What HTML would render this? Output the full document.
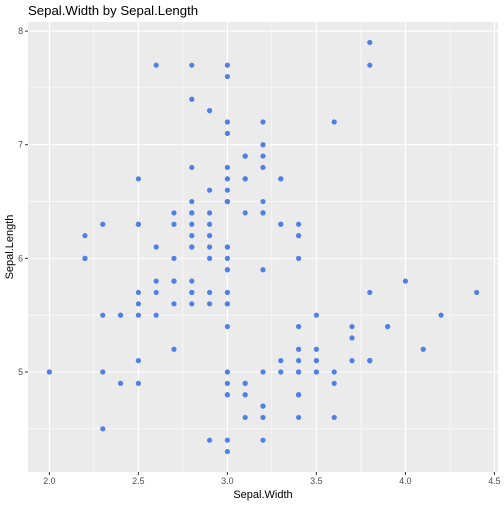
<!DOCTYPE html>
<html><head><meta charset="utf-8"><style>
body{margin:0;background:#fff;font-family:"Liberation Sans",Arial,sans-serif}
</style></head><body>
<svg id="chart" width="504" height="504" xmlns="http://www.w3.org/2000/svg" font-family="Liberation Sans, Arial, sans-serif"></svg>
<script>
const xTicks=[2.0,2.5,3.0,3.5,4.0,4.5];
const xTickLabels=["2.0","2.5","3.0","3.5","4.0","4.5"];
const yTicks=[5,6,7,8];
const yTickLabels=["5","6","7","8"];
const sepalLength=[5.1,4.9,4.7,4.6,5.0,5.4,4.6,5.0,4.4,4.9,5.4,4.8,4.8,4.3,5.8,5.7,5.4,5.1,5.7,5.1,5.4,5.1,4.6,5.1,4.8,5.0,5.0,5.2,5.2,4.7,4.8,5.4,5.2,5.5,4.9,5.0,5.5,4.9,4.4,5.1,5.0,4.5,4.4,5.0,5.1,4.8,5.1,4.6,5.3,5.0,
7.0,6.4,6.9,5.5,6.5,5.7,6.3,4.9,6.6,5.2,5.0,5.9,6.0,6.1,5.6,6.7,5.6,5.8,6.2,5.6,5.9,6.1,6.3,6.1,6.4,6.6,6.8,6.7,6.0,5.7,5.5,5.5,5.8,6.0,5.4,6.0,6.7,6.3,5.6,5.5,5.5,6.1,5.8,5.0,5.6,5.7,5.7,6.2,5.1,5.7,
6.3,5.8,7.1,6.3,6.5,7.6,4.9,7.3,6.7,7.2,6.5,6.4,6.8,5.7,5.8,6.4,6.5,7.7,7.7,6.0,6.9,5.6,7.7,6.3,6.7,7.2,6.2,6.1,6.4,7.2,7.4,7.9,6.4,6.3,6.1,7.7,6.3,6.4,6.0,6.9,6.7,6.9,5.8,6.8,6.7,6.7,6.3,6.5,6.2,5.9];
const sepalWidth=[3.5,3.0,3.2,3.1,3.6,3.9,3.4,3.4,2.9,3.1,3.7,3.4,3.0,3.0,4.0,4.4,3.9,3.5,3.8,3.8,3.4,3.7,3.6,3.3,3.4,3.0,3.4,3.5,3.4,3.2,3.1,3.4,4.1,4.2,3.1,3.2,3.5,3.6,3.0,3.4,3.5,2.3,3.2,3.5,3.8,3.0,3.8,3.2,3.7,3.3,
3.2,3.2,3.1,2.3,2.8,2.8,3.3,2.4,2.9,2.7,2.0,3.0,2.2,2.9,2.9,3.1,3.0,2.7,2.2,2.5,3.2,2.8,2.5,2.8,2.9,3.0,2.8,3.0,2.9,2.6,2.4,2.4,2.7,2.7,3.0,3.4,3.1,2.3,3.0,2.5,2.6,3.0,2.6,2.3,2.7,3.0,2.9,2.9,2.5,2.8,
3.3,2.7,3.0,2.9,3.0,3.0,2.5,2.9,2.5,3.6,3.2,2.7,3.0,2.5,2.8,3.2,3.0,3.8,2.6,2.2,3.2,2.8,2.8,2.7,3.3,3.2,2.8,3.0,2.8,3.0,2.8,3.8,2.8,2.8,2.6,3.0,3.4,3.1,3.0,3.1,3.1,3.1,2.7,3.2,3.3,3.0,2.5,3.0,3.4,3.0];

const NS="http://www.w3.org/2000/svg";
const svg=document.getElementById('chart');
const L=28,R=498,T=22,B=472;
const xMin=1.88,xMax=4.52,yMin=4.12,yMax=8.08;
const sx=v=>L+(v-xMin)/(xMax-xMin)*(R-L);
const sy=v=>B-(v-yMin)/(yMax-yMin)*(B-T);
function mk(tag,attrs){const e=document.createElementNS(NS,tag);for(const k in attrs)e.setAttribute(k,attrs[k]);svg.appendChild(e);return e;}

let p=mk('rect',{x:L,y:T,width:R-L,height:B-T,fill:'#ebebeb'});


for(let i=0;i<xTicks.length-1;i++){const v=(xTicks[i]+xTicks[i+1])/2;
 const g=mk('line',{x1:sx(v),x2:sx(v),y1:T,y2:B,stroke:'#fff','stroke-width':0.55});
 
 }
[4.5,5.5,6.5,7.5].forEach(v=>{const g=mk('line',{x1:L,x2:R,y1:sy(v),y2:sy(v),stroke:'#fff','stroke-width':0.55});
 
 });
xTicks.forEach((v,i)=>{
 const g=mk('line',{x1:sx(v),x2:sx(v),y1:T,y2:B,stroke:'#fff','stroke-width':1.1});
 
 
 const t=mk('line',{x1:sx(v),x2:sx(v),y1:B,y2:B+3,stroke:'#333','stroke-width':1});
 
 
 const l=mk('text',{x:sx(v),y:B+12,'font-size':8.8,fill:'#4d4d4d','text-anchor':'middle'});
 l.textContent=xTickLabels[i];
 
 });
yTicks.forEach((v,i)=>{
 const g=mk('line',{x1:L,x2:R,y1:sy(v),y2:sy(v),stroke:'#fff','stroke-width':1.1});
 
 
 const t=mk('line',{x1:L-3,x2:L,y1:sy(v),y2:sy(v),stroke:'#333','stroke-width':1});
 
 
 const l=mk('text',{x:L-5,y:sy(v)+3,'font-size':8.8,fill:'#4d4d4d','text-anchor':'end'});
 l.textContent=yTickLabels[i];
 
 });
sepalWidth.forEach((w,i)=>{
 const c=mk('circle',{cx:sx(w),cy:sy(sepalLength[i]),r:2.6,fill:'#4f80e8'});
 
 });
let t=mk('text',{x:(L+R)/2,y:498,'font-size':11,fill:'#000','text-anchor':'middle'});
t.textContent='Sepal.Width';


t=mk('text',{x:13,y:(T+B)/2,'font-size':11,fill:'#000','text-anchor':'middle',transform:`rotate(-90 13 ${(T+B)/2})`});
t.textContent='Sepal.Length';


t=mk('text',{x:28,y:15,'font-size':13.2,fill:'#000'});
t.textContent='Sepal.Width by Sepal.Length';


</script>
</body></html>
